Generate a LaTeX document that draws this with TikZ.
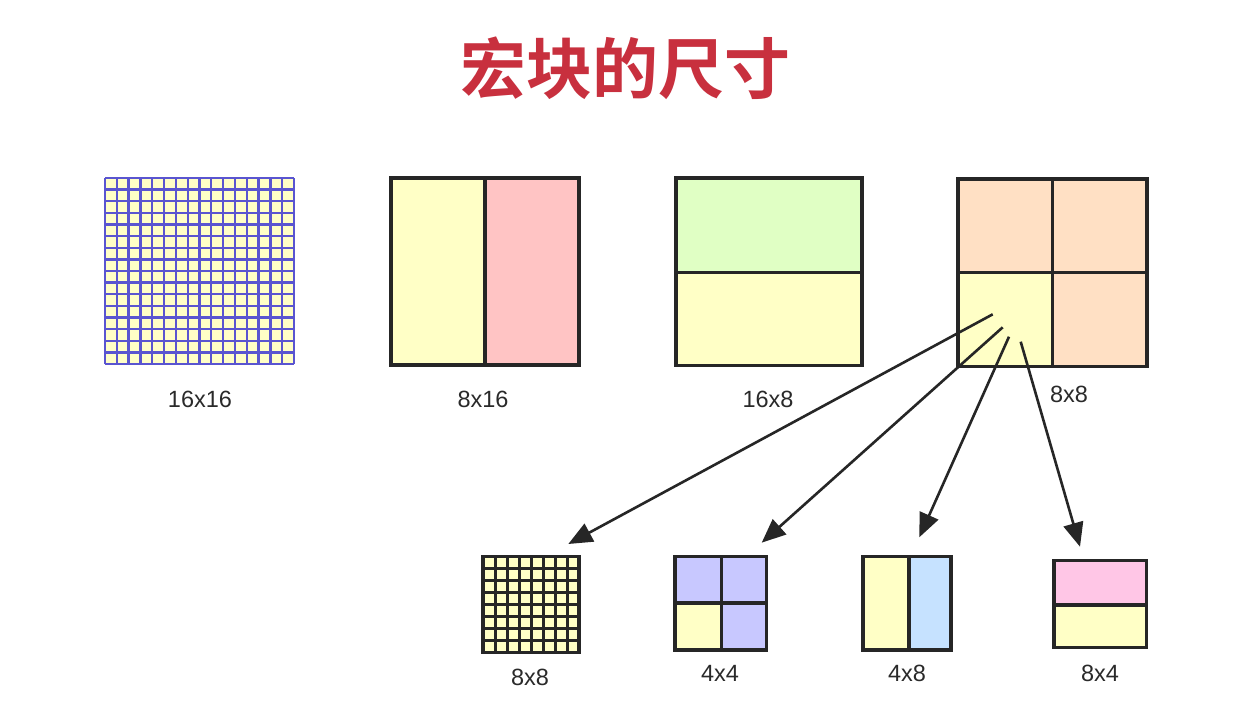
\documentclass[tikz,border=0pt]{standalone}
\usepackage{fontspec}
\setmainfont{Liberation Sans}
\newfontfamily\cjk{Noto Sans CJK SC Bold}
\usetikzlibrary{arrows.meta}
\definecolor{cyel}{HTML}{FFFFC6}
\definecolor{cpink}{HTML}{FFC4C4}
\definecolor{cgreen}{HTML}{E0FFC4}
\definecolor{cpeach}{HTML}{FFE0C4}
\definecolor{cpurp}{HTML}{C8C8FF}
\definecolor{cblue}{HTML}{C6E2FF}
\definecolor{cpink2}{HTML}{FFC6E6}
\definecolor{cline}{HTML}{262626}
\definecolor{cgrid}{HTML}{5A55D0}
\definecolor{ctitle}{HTML}{C8303E}
\definecolor{ctext}{HTML}{2A2A2A}
\tikzset{
  border/.style={draw=cline, line width=3.6pt},
  inner/.style={draw=cline, line width=3.2pt},
  lbl/.style={text=ctext, font=\fontsize{23.5}{26}\selectfont, inner sep=0pt},
  arr/.style={draw=cline, line width=2.6pt, -{Triangle[length=24pt,width=20pt]}},
}
\begin{document}
\begin{tikzpicture}[x=1pt,y=-1pt]
\useasboundingbox (0,0) rectangle (1234,701);
\fill[white] (0,0) rectangle (1234,701);
% title
\node[text=ctitle, font=\cjk\fontsize{66}{72}\selectfont, inner sep=0pt] (title) at (625,68) {宏块的尺寸};

% 16x16
\fill[cyel] (105,178) rectangle (294,364);
\foreach \i in {0,...,16} {
  \draw[cgrid, line width=2.3pt] ({105+\i*189/16},178) -- ({105+\i*189/16},364);
  \draw[cgrid, line width=2.3pt] (105,{178+\i*186/16}) -- (294,{178+\i*186/16});
}
\node (b1616) at (199.5,271) [minimum width=189pt, minimum height=186pt] {};
\node[lbl] (l1616) at (200,399) {16x16};

% 8x16
\fill[cyel] (391,178) rectangle (485,365);
\fill[cpink] (485,178) rectangle (579,365);
\draw[inner] (485,178) -- (485,365);
\draw[border] (391,178) rectangle (579,365);
\node (b816) at (485,271.5) [minimum width=188pt, minimum height=187pt] {};
\node[lbl] (l816) at (483,399) {8x16};

% 16x8
\fill[cgreen] (676,178) rectangle (862,272.5);
\fill[cyel] (676,272.5) rectangle (862,365.5);
\draw[inner] (676,272.5) -- (862,272.5);
\draw[border] (676,178) rectangle (862,365.5);
\node (b168) at (769,271.7) [minimum width=186pt, minimum height=187pt] {};
\node[lbl] (l168) at (768,399) {16x8};

% 8x8 big
\fill[cpeach] (958,179) rectangle (1147,366.5);
\fill[cyel] (958,272.7) rectangle (1052.7,366.5);
\draw[inner] (1052.7,179) -- (1052.7,366.5);
\draw[inner] (958,272.7) -- (1147,272.7);
\draw[border] (958,179) rectangle (1147,366.5);
\node (b88) at (1052.5,272.7) [minimum width=189pt, minimum height=187pt] {};
\node[lbl] (l88) at (1069,394) {8x8};

% small 8x8 grid
\fill[cyel] (483,556.5) rectangle (579,652.5);
\foreach \i in {1,...,7} {
  \draw[cline, line width=3pt] ({483+\i*12},556.5) -- ({483+\i*12},652.5);
  \draw[cline, line width=3pt] (483,{556.5+\i*12}) -- (579,{556.5+\i*12});
}
\draw[border] (483,556.5) rectangle (579,652.5);
\node (s88) at (531,604.5) [minimum width=96pt, minimum height=96pt] {};
\node[lbl] (ls88) at (530,677) {8x8};

% 4x4
\fill[cpurp] (675,556.5) rectangle (766.5,650);
\fill[cyel] (675,603) rectangle (721.7,650);
\draw[inner] (721.7,556.5) -- (721.7,650);
\draw[inner] (675,603) -- (766.5,603);
\draw[border] (675,556.5) rectangle (766.5,650);
\node (s44) at (720.7,603.2) [minimum width=91pt, minimum height=93pt] {};
\node[lbl] (ls44) at (720,673) {4x4};

% 4x8
\fill[cyel] (863,556.5) rectangle (909,650);
\fill[cblue] (909,556.5) rectangle (951,650);
\draw[inner] (909,556.5) -- (909,650);
\draw[border] (863,556.5) rectangle (951,650);
\node (s48) at (907,603.2) [minimum width=88pt, minimum height=93pt] {};
\node[lbl] (ls48) at (907,673) {4x8};

% 8x4
\fill[cpink2] (1054,560.5) rectangle (1146.5,605);
\fill[cyel] (1054,605) rectangle (1146.5,647.5);
\draw[inner] (1054,605) -- (1146.5,605);
\draw[border] (1054,560.5) rectangle (1146.5,647.5);
\node (s84) at (1100.2,604) [minimum width=92pt, minimum height=87pt] {};
\node[lbl] (ls84) at (1100,673) {8x4};

% arrows
\coordinate (a1) at (992.7,314.3);
\coordinate (a2) at (1002.7,327.3);
\coordinate (a3) at (1009,336.7);
\coordinate (a4) at (1020.7,341.7);
\coordinate (t1) at (568.3,544);
\coordinate (t2) at (761.7,542.7);
\coordinate (t3) at (919.3,537.3);
\coordinate (t4) at (1080,546.7);
\draw[arr] (a1) -- (t1);
\draw[arr] (a2) -- (t2);
\draw[arr] (a3) -- (t3);
\draw[arr] (a4) -- (t4);
\end{tikzpicture}
\end{document}
